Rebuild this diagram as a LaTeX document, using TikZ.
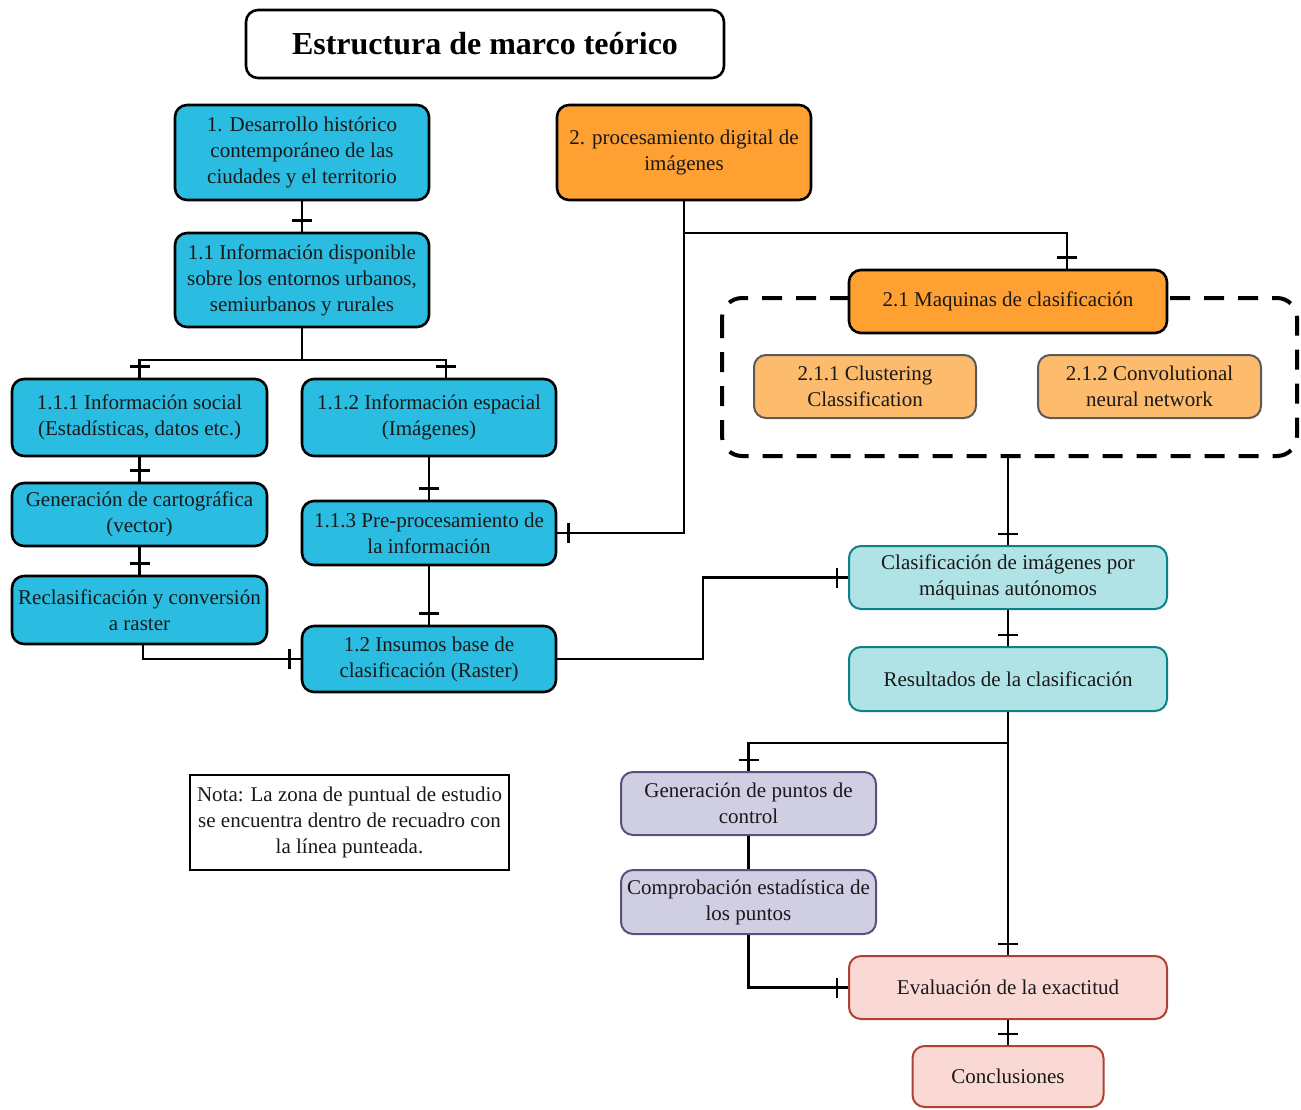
\documentclass[tikz,border=0pt]{standalone}
\usepackage{fontspec}
\setmainfont{Liberation Serif}
\usetikzlibrary{decorations.markings}
\definecolor{cy}{RGB}{43,188,225}
\definecolor{orA}{RGB}{255,160,50}
\definecolor{orB}{RGB}{253,187,110}
\definecolor{orBd}{RGB}{90,90,90}
\definecolor{tlF}{RGB}{176,227,230}
\definecolor{tlD}{RGB}{14,128,136}
\definecolor{puF}{RGB}{208,206,226}
\definecolor{puD}{RGB}{86,81,126}
\definecolor{rdF}{RGB}{250,217,213}
\definecolor{rdD}{RGB}{174,65,50}
\begin{document}
\begin{tikzpicture}[x=0.5pt,y=-0.5pt,
  base/.style={rounded corners=6pt, align=center, inner sep=1pt, text=black!90,
    font=\rmfamily\fontsize{10.5}{13}\selectfont},
  cyanbox/.style={base, draw=black, line width=1.3pt, fill=cy},
  orbox/.style={base, draw=black, line width=1.3pt, fill=orA},
  lorbox/.style={base, draw=orBd, line width=1pt, fill=orB},
  tealbox/.style={base, draw=tlD, line width=1pt, fill=tlF},
  purbox/.style={base, draw=puD, line width=1pt, fill=puF},
  redbox/.style={base, draw=rdD, line width=1pt, fill=rdF},
  conn/.style={line width=1.3pt},
  tk/.style={conn, postaction={decorate, decoration={markings,
     mark=at position -5.5pt with {\draw[line width=1.3pt] (0,-5pt) -- (0,5pt);}}}}
]
\useasboundingbox (0,0) rectangle (1301,1109);

% dashed group frame
\draw[line width=2pt, dash pattern=on 10pt off 7pt, rounded corners=10pt] (722,298) rectangle (1297,456);
\coordinate (db) at (1008,456);

% title
\node[draw=black, line width=1.3pt, rounded corners=6pt, minimum width=239pt, minimum height=34pt,
  font=\rmfamily\fontsize{16}{19}\selectfont\bfseries] (title) at (485,44) {Estructura de marco teórico};

% branch 1
\node[cyanbox, minimum width=127pt, minimum height=47.5pt] (n1) at (302,152.5)
  {1. Desarrollo histórico\\contemporáneo de las\\ciudades y el territorio};
\node[cyanbox, minimum width=127pt, minimum height=47pt] (n11) at (302,280)
  {1.1 Información disponible\\sobre los entornos urbanos,\\semiurbanos y rurales};
\node[cyanbox, minimum width=127.5pt, minimum height=38.5pt] (n111) at (139.5,417.5)
  {1.1.1 Información social\\(Estadísticas, datos etc.)};
\node[cyanbox, minimum width=127pt, minimum height=38.5pt] (n112) at (429,417.5)
  {1.1.2 Información espacial\\(Imágenes)};
\node[cyanbox, minimum width=127.5pt, minimum height=31.5pt] (gen) at (139.5,514.5)
  {Generación de cartográfica\\(vector)};
\node[cyanbox, minimum width=127.5pt, minimum height=34pt] (recl) at (139.5,610)
  {Reclasificación y conversión\\a raster};
\node[cyanbox, minimum width=127pt, minimum height=32pt] (n113) at (429,533)
  {1.1.3 Pre-procesamiento de\\la información};
\node[cyanbox, minimum width=127pt, minimum height=33pt] (n12) at (429,659)
  {1.2 Insumos base de\\clasificación (Raster)};

% branch 2
\node[orbox, minimum width=127pt, minimum height=47.5pt] (n2) at (684,152.5)
  {2. procesamiento digital de\\imágenes};
\node[orbox, minimum width=159pt, minimum height=31.5pt] (n21) at (1008,301.5)
  {2.1 Maquinas de clasificación};
\node[lorbox, minimum width=111pt, minimum height=31.5pt] (n211) at (865,386.5)
  {2.1.1 Clustering\\Classification};
\node[lorbox, minimum width=111.5pt, minimum height=31.5pt] (n212) at (1149.5,386.5)
  {2.1.2 Convolutional\\neural network};

% results chain
\node[tealbox, minimum width=159pt, minimum height=31.5pt] (clas) at (1008,577.5)
  {Clasificación de imágenes por\\máquinas autónomos};
\node[tealbox, minimum width=159pt, minimum height=32pt] (res) at (1008,679)
  {Resultados de la clasificación};
\node[purbox, minimum width=127.5pt, minimum height=31.5pt] (genp) at (748.5,803.5)
  {Generación de puntos de\\control};
\node[purbox, minimum width=127.5pt, minimum height=32pt] (comp) at (748.5,902)
  {Comprobación estadística de\\los puntos};
\node[redbox, minimum width=159pt, minimum height=31.5pt] (eval) at (1008,987.5)
  {Evaluación de la exactitud};
\node[redbox, minimum width=95.5pt, minimum height=30.5pt] (concl) at (1008,1076.5)
  {Conclusiones};

% note
\node[draw=black, line width=1pt, minimum width=159.5pt, minimum height=47.5pt, align=center,
  inner sep=1pt, text=black!90, font=\rmfamily\fontsize{10.5}{13}\selectfont] (nota) at (349.5,822.5)
  {Nota: La zona de puntual de estudio\\se encuentra dentro de recuadro con\\la línea punteada.};

% helper coordinates
\coordinate (j1) at (302,360);
\coordinate (x446) at (446,0);
\coordinate (x143) at (143,0);
\coordinate (j2) at (684,233);
\coordinate (x1067) at (1067,0);
\coordinate (j3) at (703,659);
\coordinate (j4) at (1008,743);

% connectors
\draw[tk] (n1.south) -- (n11.north);
\draw[tk] (n11.south) -- (j1) -| (n111.north);
\draw[tk] (j1) -| (n112.north -| x446);
\draw[tk] (n111.south) -- (gen.north);
\draw[tk] (gen.south) -- (recl.north);
\draw[tk] (recl.south -| x143) |- (n12.west);
\draw[tk] (n112.south) -- (n113.north);
\draw[tk] (n113.south) -- (n12.north);
\draw[tk] (n2.south) -- (j2) -| (n21.north -| x1067);
\draw[tk] (j2) |- (n113.east);
\draw[tk] (n12.east) -- (j3) |- (clas.west);
\draw[tk] (db) -- (clas.north);
\draw[tk] (clas.south) -- (res.north);
\draw[tk] (res.south) -- (eval.north);
\draw[tk] (j4) -| (genp.north);
\draw[conn] (genp.south) -- (comp.north);
\draw[tk] (comp.south) |- (eval.west);
\draw[tk] (eval.south) -- (concl.north);
\end{tikzpicture}
\end{document}
